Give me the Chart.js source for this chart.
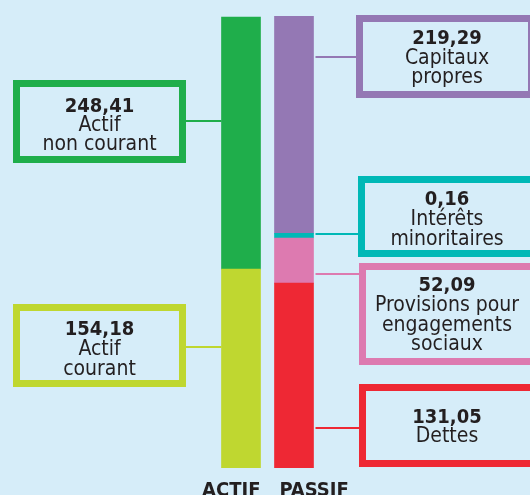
<!DOCTYPE html>
<html>
<head>
<meta charset="utf-8">
<script src="https://cdn.jsdelivr.net/npm/chart.js@4/dist/chart.umd.min.js"></script>
<style>
  html, body { margin: 0; padding: 0; background: #d6edf9; }
  #wrap { width: 530px; height: 495px; position: relative; overflow: hidden; }
</style>
</head>
<body>
<div id="wrap"><canvas id="bilan"></canvas></div>
<script>
const categories = ["ACTIF", "PASSIF"];

// segments, bottom to top of each column
const segmentNames = [
  ["Actif", "courant"],
  ["Actif", "non courant"],
  ["Dettes"],
  ["Provisions pour", "engagements", "sociaux"],
  ["Intérêts", "minoritaires"],
  ["Capitaux", "propres"],
];
const segmentColumn = [0, 0, 1, 1, 1, 1];
const amounts = ["154,18", "248,41", "131,05", "52,09", "0,16", "219,29"];
// heights as drawn in the original graphic (it is not to scale)
const drawnSizes = [177.6, 225.0, 165.1, 40.2, 4.2, 194.0];
const colors = ["#bfd730", "#1fae4b", "#ee2834", "#dd7ab0", "#00b8b6", "#9478b4"];

const BG = "#d6edf9";
const INK = "#231f20";
const FONT = '"DejaVu Sans Condensed", "DejaVu Sans", sans-serif';

// label boxes: outer rect, connector y, text centre x, baselines
const boxes = [
  { x: 13, y: 304, w: 173, h: 83, link: 347, tx: 99.5, lines: [335, 355, 375] },
  { x: 13, y: 80, w: 173, h: 83, link: 121, tx: 99.5, lines: [111.5, 130.5, 150] },
  { x: 359, y: 384, w: 190, h: 83, link: 428, tx: 447, lines: [423, 442] },
  { x: 359, y: 263, w: 190, h: 102, link: 274, tx: 447, lines: [291, 311, 331, 350] },
  { x: 358, y: 176, w: 190, h: 81, link: 234, tx: 447, lines: [205, 225, 245] },
  { x: 356, y: 15, w: 179, h: 83, link: 57, tx: 447, lines: [44, 64, 83] },
];

const datasets = drawnSizes.map((v, i) => {
  const data = [null, null];
  data[segmentColumn[i]] = v;
  return {
    label: segmentNames[i].join(" "),
    data,
    backgroundColor: colors[i],
    borderWidth: 0,
    barThickness: 39,
    stack: "bilan",
  };
});

const labelPlugin = {
  id: "labels",
  afterDatasetsDraw(chart) {
    const ctx = chart.ctx;
    ctx.save();
    boxes.forEach((b, i) => {
      const bar = chart.getDatasetMeta(i).data[segmentColumn[i]];
      const left = b.x < bar.x;
      // connector
      ctx.strokeStyle = colors[i];
      ctx.lineWidth = 2;
      ctx.beginPath();
      if (left) {
        ctx.moveTo(b.x + b.w, b.link);
        ctx.lineTo(bar.x - bar.width / 2, b.link);
      } else {
        ctx.moveTo(bar.x + bar.width / 2 + 2, b.link);
        ctx.lineTo(b.x, b.link);
      }
      ctx.stroke();
      // box
      ctx.fillStyle = BG;
      ctx.fillRect(b.x, b.y, b.w, b.h);
      ctx.lineWidth = 7;
      ctx.strokeRect(b.x + 3.5, b.y + 3.5, b.w - 7, b.h - 7);
      // text
      ctx.fillStyle = INK;
      ctx.textAlign = "center";
      ctx.textBaseline = "alphabetic";
      ctx.font = "bold 20px " + FONT;
      ctx.fillText(amounts[i], b.tx, b.lines[0]);
      ctx.font = "21px " + FONT;
      segmentNames[i].forEach((t, k) => ctx.fillText(t, b.tx, b.lines[k + 1]));
    });
    // column names
    ctx.font = "bold 20px " + FONT;
    ctx.fillStyle = INK;
    const a = chart.getDatasetMeta(0).data[0];
    const p = chart.getDatasetMeta(2).data[1];
    ctx.textAlign = "right";
    ctx.fillText(categories[0], a.x + a.width / 2, 496);
    ctx.textAlign = "left";
    ctx.fillText(categories[1], p.x - p.width / 2 + 5, 496);
    ctx.restore();
  },
};

new Chart(document.getElementById("bilan"), {
  type: "bar",
  data: { labels: categories, datasets },
  options: {
    responsive: true,
    maintainAspectRatio: false,
    animation: false,
    layout: { padding: { left: 214.5, right: 209.5, top: 16, bottom: 27 } },
    plugins: { legend: { display: false }, tooltip: { enabled: false } },
    scales: {
      x: { display: false, stacked: true },
      y: { display: false, stacked: true, min: 0, max: 403.5 },
    },
  },
  plugins: [labelPlugin],
});
</script>
</body>
</html>
